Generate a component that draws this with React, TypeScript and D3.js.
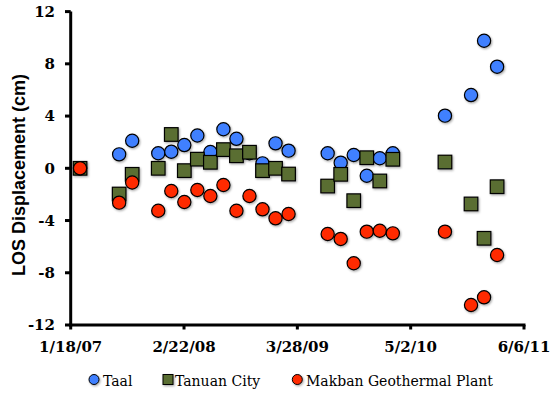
import React from "react";
import * as d3 from "d3";

const dates: string[] = [
  "2007-02-20", "2007-07-08", "2007-08-23", "2007-11-23", "2008-01-08", "2008-02-23",
  "2008-04-09", "2008-05-25", "2008-07-10", "2008-08-25", "2008-10-10", "2008-11-25",
  "2009-01-10", "2009-02-25", "2009-07-13", "2009-08-28", "2009-10-13", "2009-11-28",
  "2010-01-13", "2010-02-28", "2010-08-31", "2010-12-01", "2011-01-16", "2011-03-03",
];

const taal: number[] = [
  0, 1.07, 2.11, 1.15, 1.27, 1.78, 2.51, 1.25, 2.99, 2.26, 1.15, 0.38,
  1.91, 1.35, 1.15, 0.43, 1.02, -0.57, 0.77, 1.15, 4.03, 5.61, 9.77, 7.78,
];

const tanuan: number[] = [
  0, -1.97, -0.46, 0.0, 2.59, -0.18, 0.7, 0.46, 1.43, 0.96, 1.23, -0.18,
  0.0, -0.44, -1.36, -0.46, -2.48, 0.81, -0.97, 0.69, 0.48, -2.73, -5.36, -1.41,
];

const makban: number[] = [
  0, -2.63, -1.09, -3.25, -1.74, -2.58, -1.66, -2.12, -1.28, -3.25, -2.12, -3.14,
  -3.83, -3.5, -5.03, -5.41, -7.27, -4.85, -4.78, -4.98, -4.85, -10.47, -9.88, -6.64,
];

const xTickDates: string[] = ["2007-01-18", "2008-02-22", "2009-03-28", "2010-05-02", "2011-06-06"];
const yTicks: number[] = [12, 8, 4, 0, -4, -8, -12];

const seriesNames: string[] = ["Taal", "Tanuan City", "Makban Geothermal Plant"];
const seriesColors: string[] = ["#3f80ff", "#5a6e33", "#ff2a00"];

export default function App() {
  const parse = d3.timeParse("%Y-%m-%d");
  const fmt = d3.timeFormat("%-m/%-d/%y");
  const xDates = dates.map((d) => parse(d) as Date);
  const tickDates = xTickDates.map((d) => parse(d) as Date);

  const x = d3
    .scaleTime()
    .domain([tickDates[0], tickDates[tickDates.length - 1]])
    .range([70.7, 524]);
  const y = d3.scaleLinear().domain([-12, 12]).range([325, 11.6]);

  const serifBold = "'DejaVu Serif', serif";

  return (
    <svg
      width={553}
      height={394}
      style={{ position: "absolute", left: 0, top: 0, background: "#fff" }}
    >
      <defs>
        <filter id="sh" x="-50%" y="-50%" width="200%" height="200%">
          <feDropShadow dx="1" dy="1.2" stdDeviation="0.9" floodColor="#000" floodOpacity="0.35" />
        </filter>
      </defs>

      {/* Y axis label */}
      <text
        transform={`translate(25,175) rotate(-90)`}
        textAnchor="middle"
        fontFamily="'Liberation Sans', Arial, sans-serif"
        fontWeight="bold"
        fontSize={18}
        fill="#000"
      >
        LOS Displacement (cm)
      </text>

      {/* markers: Taal circles */}
      <g filter="url(#sh)">
        {taal.map((v, i) => (
          <circle
            key={"t" + i}
            cx={x(xDates[i])}
            cy={y(v)}
            r={6.6}
            fill={seriesColors[0]}
            stroke="#000"
            strokeWidth={1.2}
          />
        ))}
        {tanuan.map((v, i) => (
          <rect
            key={"n" + i}
            x={x(xDates[i]) - 6.8}
            y={y(v) - 6.8}
            width={13.6}
            height={13.6}
            fill={seriesColors[1]}
            stroke="#000"
            strokeWidth={1.2}
          />
        ))}
        {makban.map((v, i) => (
          <circle
            key={"m" + i}
            cx={x(xDates[i])}
            cy={y(v)}
            r={6.6}
            fill={seriesColors[2]}
            stroke="#000"
            strokeWidth={1.2}
          />
        ))}
      </g>

      {/* Y axis */}
      <line x1={70.7} x2={70.7} y1={11.6} y2={326.5} stroke="#000" strokeWidth={3} />
      {yTicks.map((t) => (
        <g key={"y" + t}>
          <line x1={65} x2={70.7} y1={y(t)} y2={y(t)} stroke="#000" strokeWidth={3} />
          <text
            x={55}
            y={y(t)}
            dy="0.36em"
            textAnchor="end"
            fontFamily={serifBold}
            fontWeight="bold"
            fontSize={15}
            fill="#000"
          >
            {t}
          </text>
        </g>
      ))}

      {/* X axis */}
      <line x1={69.2} x2={525.5} y1={325} y2={325} stroke="#000" strokeWidth={3} />
      {tickDates.map((d, i) => (
        <g key={"x" + i}>
          <line x1={x(d)} x2={x(d)} y1={325} y2={329.5} stroke="#000" strokeWidth={3} />
          <text
            x={x(d)}
            y={352}
            textAnchor="middle"
            fontFamily={serifBold}
            fontWeight="bold"
            fontSize={15}
            fill="#000"
          >
            {fmt(d)}
          </text>
        </g>
      ))}

      {/* Legend */}
      <g filter="url(#sh)">
        <circle cx={94} cy={379.5} r={5} fill={seriesColors[0]} stroke="#000" strokeWidth={1} />
        <rect x={163} y={374.5} width={10} height={10} fill={seriesColors[1]} stroke="#000" strokeWidth={1} />
        <circle cx={297.3} cy={379.5} r={5} fill={seriesColors[2]} stroke="#000" strokeWidth={1} />
      </g>
      {[103, 175, 306].map((lx, i) => (
        <text
          key={"l" + i}
          x={lx}
          y={386}
          fontFamily="'DejaVu Serif', serif"
          fontSize={14}
          fill="#000"
        >
          {seriesNames[i]}
        </text>
      ))}
    </svg>
  );
}
